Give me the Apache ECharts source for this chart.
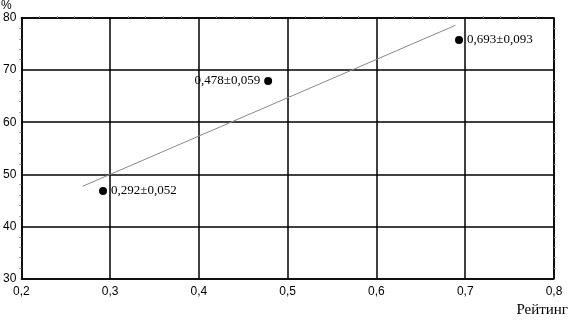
<!DOCTYPE html>
<html><head><meta charset="utf-8">
<script src="https://cdn.jsdelivr.net/npm/echarts@6/dist/echarts.min.js"></script>
<style>html,body{margin:0;padding:0;background:#fff}#c{width:570px;height:320px}</style>
</head><body><div id="c"></div>
<script>
const pointX = [0.292, 0.478, 0.693];
const pointY = [46.8, 67.9, 75.8];
const pointLabels = ['0,292±0,052', '0,478±0,059', '0,693±0,093'];
const labelSide = ['right', 'left', 'right'];
const trendX = [0.269, 0.689];
const trendY = [47.7, 78.6];
const xTitle = 'Рейтинг';
const yTitle = '%';

const chart = echarts.init(document.getElementById('c'), null, {renderer: 'canvas'});
const fmt = v => String(Math.round(v * 10) / 10).replace('.', ',');
const axisLine = {show: true, lineStyle: {color: '#000', width: 1.5}};
const minor = {show: true, splitNumber: 5, length: 2, lineStyle: {color: '#999', width: 1}};
chart.setOption({
  animation: false,
  grid: {left: 18.5, right: 16, top: 18, bottom: 41.5, containLabel: false},
  xAxis: [{
    type: 'value', min: 0.2, max: 0.8, interval: 0.1,
    axisLine, axisTick: {show: false}, minorTick: {show: false},
    axisLabel: {formatter: fmt, color: '#000', fontFamily: 'Liberation Sans', fontSize: 12, margin: 7},
    splitLine: {show: true, lineStyle: {color: '#000', width: 1.5}}
  }, {
    type: 'value', position: 'top', min: 0.2, max: 0.8, interval: 0.1,
    axisLine, axisTick: {show: false}, axisLabel: {show: false}, splitLine: {show: false},
    minorTick: Object.assign({}, minor, {show: true})
  }],
  yAxis: [{
    type: 'value', min: 30, max: 80, interval: 10,
    axisLine, axisTick: {show: false},
    minorTick: minor,
    axisLabel: {color: '#000', fontFamily: 'Liberation Sans', fontSize: 12, margin: 5},
    splitLine: {show: true, lineStyle: {color: '#000', width: 1.5}}
  }, {
    type: 'value', position: 'right', min: 30, max: 80, interval: 10,
    axisLine, axisTick: {show: false}, axisLabel: {show: false}, splitLine: {show: false},
    minorTick: minor
  }],
  graphic: [
    {type: 'text', left: 1, top: 0, style: {text: yTitle, font: '12px "Liberation Sans"', fill: '#000'}},
    {type: 'text', right: 2, top: 303, style: {text: xTitle, font: '15px "Liberation Serif"', fill: '#000'}}
  ],
  series: [{
    type: 'line', data: trendX.map((x, i) => [x, trendY[i]]),
    symbol: 'none', lineStyle: {color: '#888', width: 1}, silent: true
  }, {
    type: 'scatter', symbolSize: 8, itemStyle: {color: '#000', opacity: 1},
    data: pointX.map((x, i) => ({
      value: [x, pointY[i]],
      label: {show: true, position: labelSide[i], distance: 4, formatter: pointLabels[i],
        color: '#000', fontFamily: 'Liberation Serif', fontSize: 13}
    }))
  }]
});
</script></body></html>
